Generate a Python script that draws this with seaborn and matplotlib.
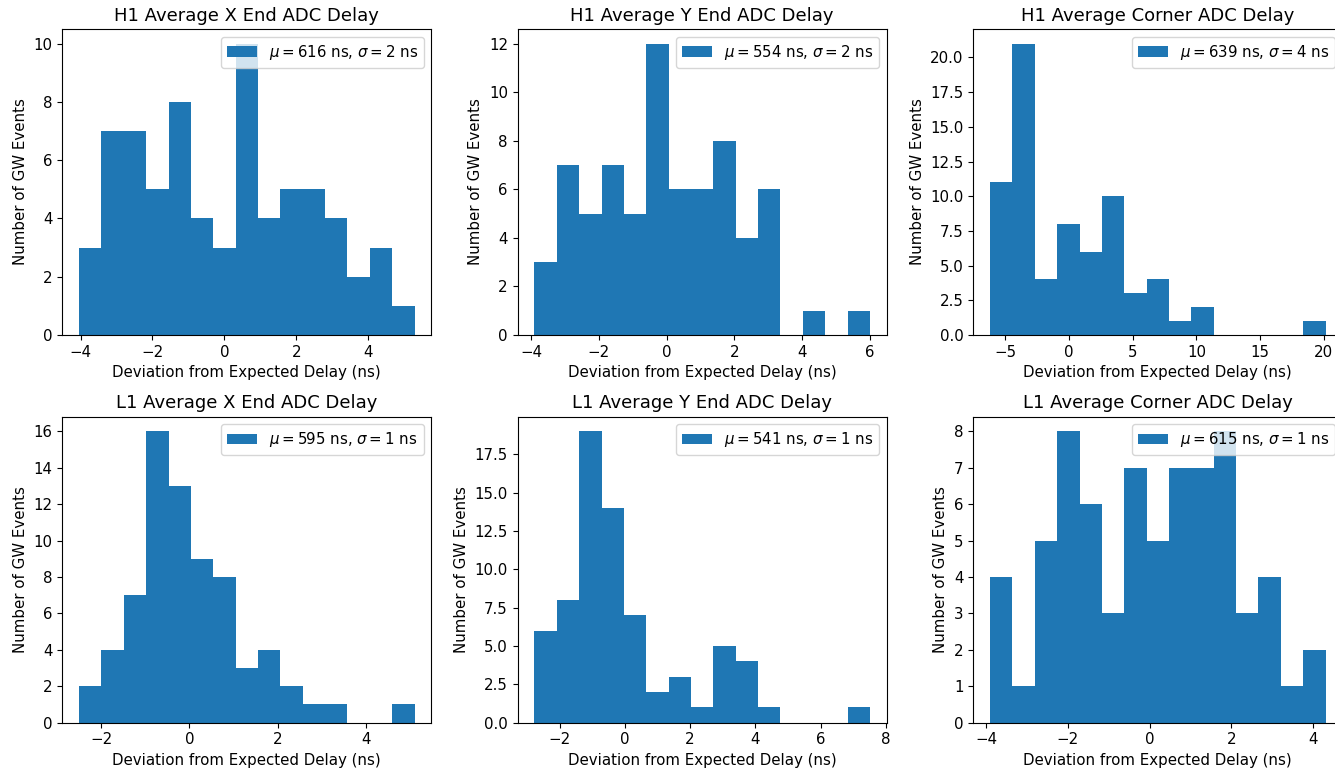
import numpy as np
import pandas as pd
import seaborn as sns
import matplotlib.pyplot as plt
from matplotlib.patches import Patch

titles = ["H1 Average X End ADC Delay", "H1 Average Y End ADC Delay", "H1 Average Corner ADC Delay",
          "L1 Average X End ADC Delay", "L1 Average Y End ADC Delay", "L1 Average Corner ADC Delay"]

# counts per bin (15 bins each)
h1_x = [3, 7, 7, 5, 8, 4, 3, 10, 4, 5, 5, 4, 2, 3, 1]
h1_y = [3, 7, 5, 7, 5, 12, 6, 6, 8, 4, 6, 0, 1, 0, 1]
h1_c = [11, 21, 4, 8, 6, 10, 3, 4, 1, 2, 0, 0, 0, 0, 1]
l1_x = [2, 4, 7, 16, 13, 9, 8, 3, 4, 2, 1, 1, 0, 0, 1]
l1_y = [6, 8, 19, 14, 7, 2, 3, 1, 5, 4, 1, 0, 0, 0, 1]
l1_c = [4, 1, 5, 8, 6, 3, 7, 5, 7, 7, 8, 3, 4, 1, 2]

# histogram range (first and last bin edge)
lo = [-4.04, -3.9, -6.18, -2.5, -2.77, -3.9]
hi = [5.28, 6.0, 20.13, 5.1, 7.51, 4.3]

mu = [616, 554, 639, 595, 541, 615]
sigma = [2, 2, 4, 1, 1, 1]

counts = [h1_x, h1_y, h1_c, l1_x, l1_y, l1_c]

plt.rcParams['font.size'] = 10.8
plt.rcParams['font.family'] = ['DejaVu Sans']
color = '#1f77b4'

fig = plt.figure(figsize=(13.35, 7.7), dpi=100)
lefts = [62.3, 517.7, 973.3]
bottoms = [335, 722.7]
W, H = 369, 306

for i in range(6):
    r, c = divmod(i, 3)
    ax = fig.add_axes([lefts[c] / 1335, (770 - bottoms[r]) / 770, W / 1335, H / 770])
    nb = len(counts[i])
    edges = np.linspace(lo[i], hi[i], nb + 1)
    df = pd.DataFrame({"dev": (edges[:-1] + edges[1:]) / 2, "n": counts[i]})
    sns.histplot(data=df, x="dev", weights="n", bins=nb, binrange=(lo[i], hi[i]), ax=ax,
                 color=color, alpha=1, linewidth=0, stat="count")
    ax.set_title(titles[i], fontsize=13)
    ax.set_xlabel("Deviation from Expected Delay (ns)")
    ax.set_ylabel("Number of GW Events")
    lab = r"$\mu = %d$ ns, $\sigma = %d$ ns" % (mu[i], sigma[i])
    ax.legend(handles=[Patch(facecolor=color)], labels=[lab], loc="upper right")

fig.savefig("out.png", dpi=100)
